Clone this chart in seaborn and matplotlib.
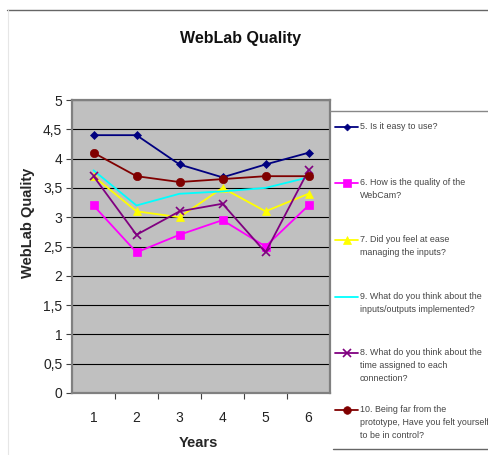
import matplotlib
matplotlib.use("Agg")
import matplotlib.pyplot as plt
from matplotlib.lines import Line2D
from matplotlib.ticker import FuncFormatter, MultipleLocator
import seaborn as sns
import pandas as pd

# Survey results per session
years = [1, 2, 3, 4, 5, 6]
q5_easy = [4.4, 4.4, 3.9, 3.68, 3.9, 4.1]
q6_webcam = [3.2, 2.4, 2.7, 2.95, 2.5, 3.2]
q7_ease = [3.7, 3.1, 3.0, 3.5, 3.1, 3.4]
q9_io = [3.8, 3.2, 3.4, 3.44, 3.5, 3.68]
q8_time = [3.7, 2.7, 3.1, 3.23, 2.4, 3.8]
q10_control = [4.1, 3.7, 3.6, 3.65, 3.7, 3.7]

labels = [
    "5. Is it easy to use?",
    "6. How is the quality of the\nWebCam?",
    "7. Did you feel at ease\nmanaging the inputs?",
    "9. What do you think about the\ninputs/outputs implemented?",
    "8. What do you think about the\ntime assigned to each\nconnection?",
    "10. Being far from the\nprototype, Have you felt yourself\nto be in control?",
]
series = [q5_easy, q6_webcam, q7_ease, q9_io, q8_time, q10_control]
colors = ["#000080", "#FF00FF", "#FFFF00", "#00FFFF", "#800080", "#800000"]
markers = ["D", "s", "^", None, "x", "o"]
msizes = [4, 6, 6, 0, 6, 6]

df = pd.DataFrame({"Year": years * len(series),
                   "Score": sum(series, []),
                   "Question": sum([[l] * len(years) for l in labels], [])})

sns.set_theme(style="white")
plt.rcParams["font.family"] = ["Liberation Sans", "DejaVu Sans"]

fig = plt.figure(figsize=(4.88, 4.55), dpi=100)
ax = fig.add_axes([72 / 488, 1 - 393 / 455, (330 - 72) / 488, (393 - 100) / 455])
ax.set_facecolor("#C0C0C0")

for lab, col, mk, ms in zip(labels, colors, markers, msizes):
    sub = df[df["Question"] == lab]
    sns.lineplot(data=sub, x="Year", y="Score", ax=ax, color=col,
                 marker=mk if mk else None, markersize=ms,
                 markeredgecolor=col, markeredgewidth=1.2 if mk == "x" else 0.5,
                 linewidth=1.3, legend=False, errorbar=None)

ax.set_xlim(0.5, 6.5)
ax.set_ylim(0, 5)
ax.yaxis.set_major_locator(MultipleLocator(0.5))
ax.yaxis.set_major_formatter(FuncFormatter(lambda v, p: f"{v:g}".replace(".", ",")))
ax.set_xticks(years)
ax.set_xticks([1.5, 2.5, 3.5, 4.5, 5.5], minor=True)
ax.grid(axis="y", color="#000000", linewidth=0.8)
ax.set_axisbelow(True)
for s in ax.spines.values():
    s.set_color("#808080")
    s.set_linewidth(1.6)
    s.set_visible(True)

ax.tick_params(axis="y", which="major", left=True, length=4, width=0.8,
               color="#404040", pad=3, labelsize=10, labelcolor="#222222")
ax.tick_params(axis="x", which="major", bottom=False, pad=7, labelsize=10,
               labelcolor="#222222")
ax.tick_params(axis="x", which="minor", bottom=True, length=4, width=0.8,
               color="#404040")

ax.set_xlabel("Years", fontsize=10.5, fontweight="bold")
ax.set_ylabel("WebLab Quality", fontsize=10.5, fontweight="bold")
ax.xaxis.set_label_coords((198 - 72) / 258, -(443 - 393) / 293)
ax.yaxis.set_label_coords((28 - 72) / 258, (393 - 223) / 293)
ax.xaxis.label.set_va("center")
ax.yaxis.label.set_va("center")

fig.text(240 / 488, 1 - 38 / 455, "WebLab Quality", ha="center", va="center",
         fontsize=11.5, fontweight="bold", color="#111111")

# Chart area outline
fig.add_artist(Line2D([7 / 488, 1], [1 - 10 / 455] * 2, transform=fig.transFigure,
                      color="#666666", linewidth=1.0))
fig.add_artist(Line2D([8 / 488] * 2, [0, 1 - 10 / 455], transform=fig.transFigure,
                      color="#E6E6E6", linewidth=0.8))

# Legend panel
fig.add_artist(Line2D([330 / 488, 1], [1 - 111 / 455] * 2, transform=fig.transFigure,
                      color="#888888", linewidth=1.0))
fig.add_artist(Line2D([333 / 488, 1], [1 - 449 / 455] * 2, transform=fig.transFigure,
                      color="#666666", linewidth=1.0))
entry_y = [127, 183, 240, 297, 353, 410]
for lab, col, mk, ms, yy in zip(labels, colors, markers, msizes, entry_y):
    yf = 1 - yy / 455
    fig.add_artist(Line2D([335 / 488, 358 / 488], [yf, yf], transform=fig.transFigure,
                          color=col, linewidth=1.3))
    if mk:
        fig.add_artist(Line2D([346.5 / 488], [yf], transform=fig.transFigure,
                              color=col, marker=mk, markersize=ms - 0.5,
                              markeredgecolor=col,
                              markeredgewidth=1.2 if mk == "x" else 0.5))
    fig.text(360 / 488, yf + 5 / 455, lab, ha="left", va="top", fontsize=6.4,
             color="#444444", linespacing=1.55)

fig.savefig("out.png", dpi=100, facecolor="white")
